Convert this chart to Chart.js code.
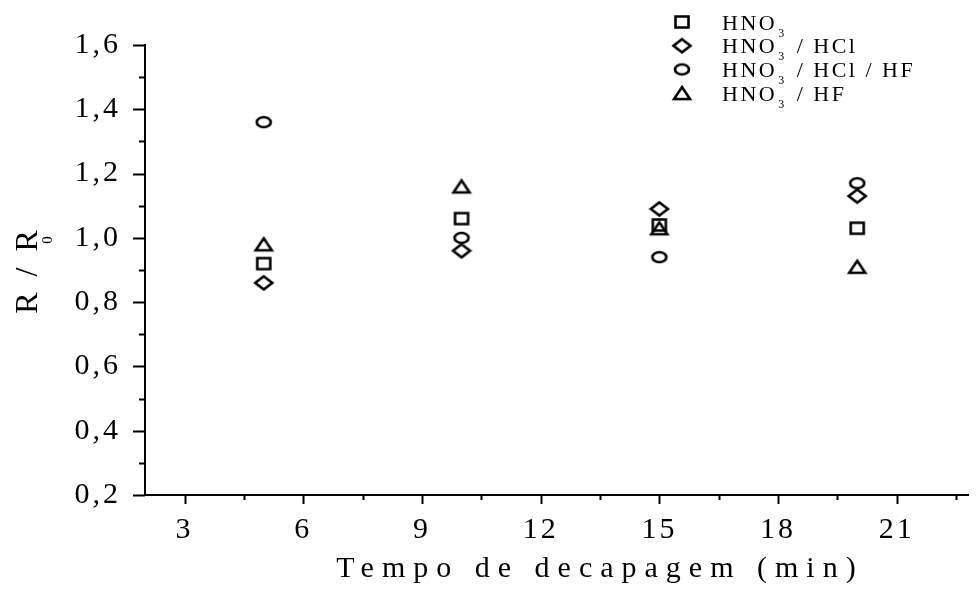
<!DOCTYPE html>
<html>
<head>
<meta charset="utf-8">
<script src="https://cdn.jsdelivr.net/npm/chart.js@4.4.0/dist/chart.umd.min.js"></script>
<style>
  html, body { margin: 0; padding: 0; background: #fff; overflow: hidden; }
  #wrap { width: 977px; height: 595px; }
</style>
</head>
<body>
<div id="wrap"><canvas id="chart" width="977" height="595"></canvas></div>
<script>
// R/R0 versus tempo de decapagem for each pickling solution
const tempos = [5, 10, 15, 20];
const rHno3 = [0.92, 1.06, 1.04, 1.03];
const rHno3Hcl = [0.86, 0.96, 1.09, 1.13];
const rHno3HclHf = [1.36, 1.00, 0.94, 1.17];
const rHno3Hf = [0.98, 1.16, 1.03, 0.91];
const seriesLabels = ['HNO₃', 'HNO₃ / HCl', 'HNO₃ / HCl / HF', 'HNO₃ / HF'];

// axis ticks: labelled ones plus the minor marks in between
const xTicks = [3, 4.5, 6, 7.5, 9, 10.5, 12, 13.5, 15, 16.5, 18, 19.5, 21, 22.5];
const xLabels = [3, 6, 9, 12, 15, 18, 21];
const yTicks = [0.2, 0.3, 0.4, 0.5, 0.6, 0.7, 0.8, 0.9, 1.0, 1.1, 1.2, 1.3, 1.4, 1.5, 1.6];
const yLabels = [0.2, 0.4, 0.6, 0.8, 1.0, 1.2, 1.4, 1.6];

const SERIF = 'Liberation Serif';

// open markers drawn once on small canvases
function makeMarker(shape) {
    const c = document.createElement('canvas');
    c.width = 22;
    c.height = 18;
    const g = c.getContext('2d');
    g.strokeStyle = '#000';
    g.lineWidth = 2.6;
    g.beginPath();
    if (shape === 'square') {
        g.rect(4.5, 3.5, 13, 11);
    } else if (shape === 'circle') {
        g.ellipse(11, 9, 7, 5, 0, 0, Math.PI * 2);
    } else if (shape === 'diamond') {
        g.moveTo(11, 2.5); g.lineTo(19.5, 9); g.lineTo(11, 15.5); g.lineTo(2.5, 9); g.closePath();
    } else {
        g.moveTo(11, 3); g.lineTo(19, 15); g.lineTo(3, 15); g.closePath();
    }
    g.stroke();
    return c;
}

const markers = [makeMarker('square'), makeMarker('diamond'), makeMarker('circle'), makeMarker('triangle')];
const seriesValues = [rHno3, rHno3Hcl, rHno3HclHf, rHno3Hf];

const datasets = seriesValues.map((vals, i) => ({
    label: seriesLabels[i],
    data: tempos.map((t, j) => ({ x: t, y: vals[j] })),
    pointStyle: markers[i],
    pointRadius: 8,
    borderColor: '#000',
    backgroundColor: '#000',
}));

// draws text where '₃' becomes a small lowered digit
function drawSubText(ctx, text, x, y, size) {
    let cx = x;
    for (const ch of text) {
        if (ch === '₃') {
            ctx.font = Math.round(size * 0.55) + 'px "' + SERIF + '"';
            ctx.fillText('3', cx + 1, y + size * 0.32);
            cx += ctx.measureText('3').width + 3;
        } else {
            ctx.font = size + 'px "' + SERIF + '"';
            ctx.fillText(ch, cx, y);
            cx += ctx.measureText(ch).width;
        }
    }
}

const decor = {
    id: 'decor',
    beforeDraw(chart) {
        chart.ctx.letterSpacing = '3px';
    },
    afterDraw(chart) {
        const { ctx, chartArea: a, scales: { x, y } } = chart;
        ctx.save();
        ctx.letterSpacing = '0px';

        // outward tick marks, long for labelled values
        ctx.strokeStyle = '#000';
        ctx.lineWidth = 2;
        ctx.beginPath();
        x.ticks.forEach(t => {
            const px = Math.round(x.getPixelForValue(t.value)) + 0.5;
            const len = xLabels.includes(t.value) ? 9 : 5;
            ctx.moveTo(px, a.bottom);
            ctx.lineTo(px, a.bottom + len);
        });
        y.ticks.forEach(t => {
            const py = Math.round(y.getPixelForValue(t.value)) + 0.5;
            const len = yLabels.includes(t.value) ? 12 : 6;
            ctx.moveTo(a.left, py);
            ctx.lineTo(a.left - len, py);
        });
        ctx.stroke();

        ctx.fillStyle = '#000';
        ctx.textBaseline = 'alphabetic';

        // legend in the top right corner
        chart.data.datasets.forEach((ds, i) => {
            const rowY = 22 + i * 23.7;
            ctx.drawImage(ds.pointStyle, 682 - 11, rowY - 9);
            ctx.letterSpacing = '2.5px';
            drawSubText(ctx, ds.label, 722, rowY + 7.5, 22);
        });

        // x axis title
        ctx.letterSpacing = '8px';
        ctx.font = '30px "' + SERIF + '"';
        ctx.textAlign = 'center';
        ctx.fillText('Tempo de decapagem (min)', 600, 577);

        // y axis title, rotated, with the subscript under the second R
        ctx.save();
        ctx.translate(37, 270);
        ctx.rotate(-Math.PI / 2);
        ctx.letterSpacing = '4px';
        ctx.font = '32px "' + SERIF + '"';
        ctx.textAlign = 'center';
        ctx.fillText('R / R', 0, 0);
        ctx.letterSpacing = '0px';
        ctx.font = '15px "' + SERIF + '"';
        ctx.fillText('0', 30, 15);
        ctx.restore();

        ctx.restore();
    },
};

const fmtComma = v => v.toFixed(1).replace('.', ',');

new Chart(document.getElementById('chart'), {
    type: 'scatter',
    data: { datasets },
    options: {
        responsive: false,
        animation: false,
        layout: { padding: { top: 45, right: 0, left: 0, bottom: 0 } },
        plugins: {
            legend: { display: false },
            tooltip: { enabled: false },
        },
        scales: {
            x: {
                type: 'linear',
                min: 2,
                max: 22.8,
                afterBuildTicks: s => { s.ticks = xTicks.map(v => ({ value: v })); },
                afterFit: s => { s.height = 100; },
                grid: { display: false, drawTicks: false },
                border: { display: true, color: '#000', width: 2 },
                ticks: {
                    color: '#000',
                    font: { family: SERIF, size: 30 },
                    padding: 17,
                    maxRotation: 0,
                    autoSkip: false,
                    callback: v => (xLabels.includes(v) ? String(v) : ''),
                },
            },
            y: {
                type: 'linear',
                min: 0.2,
                max: 1.6,
                afterBuildTicks: s => { s.ticks = yTicks.map(v => ({ value: v })); },
                afterFit: s => { s.width = 145; },
                grid: { display: false, drawTicks: false },
                border: { display: true, color: '#000', width: 2 },
                ticks: {
                    color: '#000',
                    font: { family: SERIF, size: 30 },
                    padding: 24,
                    autoSkip: false,
                    callback: v => (yLabels.includes(v) ? fmtComma(v) : ''),
                },
            },
        },
    },
    plugins: [decor],
});
</script>
</body>
</html>
